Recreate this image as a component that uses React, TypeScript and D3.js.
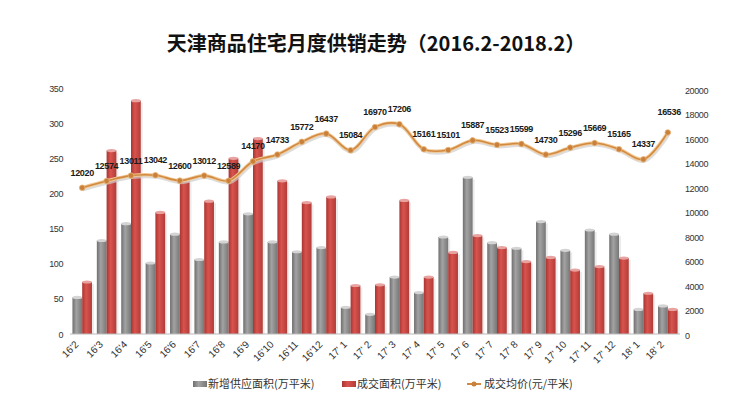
import React from "react";
import * as d3 from "d3";

const categories = ["16'2","16'3","16'4","16'5","16'6","16'7","16'8","16'9","16'10","16'11","16'12","17' 1","17' 2","17' 3","17' 4","17' 5","17' 6","17' 7","17' 8","17' 9","17' 10","17' 11","17' 12","18' 1","18' 2"];
const supply = [52,133,157,101,142,106,131,171,131,117,123,38,28,81,59,138,223,130,122,160,119,148,142,35,40];
const sales = [74,261,332,173,218,189,250,278,218,187,195,69,70,190,81,116,140,123,103,109,91,96,108,58,35];
const price = [12020,12574,13011,13042,12600,13012,12589,14170,14733,15772,16437,15084,16970,17206,15161,15101,15887,15523,15599,14730,15296,15669,15165,14337,16536];
const leftTicks = [0,50,100,150,200,250,300,350];
const rightTicks = [0,2000,4000,6000,8000,10000,12000,14000,16000,18000,20000];
const seriesNames = ["新增供应面积(万平米)", "成交面积(万平米)", "成交均价(元/平米)"];
const title = "天津商品住宅月度供销走势（2016.2-2018.2）";

const W = 752, H = 411;
const top = 88, bottom = 334;
const numFont = "'Liberation Sans', Arial, sans-serif";
const cjkFont = "'Noto Sans CJK SC', sans-serif";

export default function App() {
  const x = d3.scaleBand<string>().domain(categories).range([70, 680]).paddingInner(0.2).paddingOuter(0.1);
  const xs = d3.scaleBand<string>().domain(["s", "d"]).range([0, x.bandwidth()]);
  const yL = d3.scaleLinear().domain([0, 350]).range([bottom, top]);
  const yR = d3.scaleLinear().domain([0, 20000]).range([bottom + 1, 90]);
  const cx = (c: string) => (x(c) as number) + x.bandwidth() / 2;
  const pts: [number, number][] = price.map((p, i) => [cx(categories[i]), yR(p)]);
  const line = d3.line<[number, number]>().x(d => d[0]).y(d => d[1]).curve(d3.curveCatmullRom.alpha(0.5));
  const path = line(pts) || "";
  const bw = xs.bandwidth();

  const bar = (c: string, v: number, key: "s" | "d", i: number) => {
    const bx = (x(c) as number) + (xs(key) as number);
    const by = yL(v);
    const h = bottom - by;
    const grad = key === "s" ? "url(#gGray)" : "url(#gRed)";
    const cap = key === "s" ? "#d4d4d4" : "#e8a3a0";
    return (
      <g key={key + i}>
        <rect x={bx + 2} y={by + 2} width={bw} height={h - 2} fill="#000" opacity={0.08} />
        <rect x={bx} y={by} width={bw} height={h} fill={grad} />
        <ellipse cx={bx + bw / 2} cy={by} rx={bw / 2} ry={1.6} fill={cap} />
      </g>
    );
  };

  return (
    <svg width={W} height={H} style={{ position: "absolute", left: 0, top: 0, background: "#fff" }}>
      <defs>
        <linearGradient id="gGray" x1="0" x2="1" y1="0" y2="0">
          <stop offset="0" stopColor="#6f6f6f" />
          <stop offset="0.4" stopColor="#a3a3a3" />
          <stop offset="1" stopColor="#777777" />
        </linearGradient>
        <linearGradient id="gRed" x1="0" x2="1" y1="0" y2="0">
          <stop offset="0" stopColor="#a83632" />
          <stop offset="0.4" stopColor="#d9534e" />
          <stop offset="1" stopColor="#b23c38" />
        </linearGradient>
      </defs>
      <text x={376} y={51} textAnchor="middle" fontFamily={cjkFont} fontWeight="bold" fontSize={20} fill="#111">{title}</text>

      {leftTicks.map(t => (
        <text key={"l" + t} x={63} y={yL(t) + 3.5} textAnchor="end" fontFamily={numFont} fontSize={9} letterSpacing={-0.4} fill="#333">{t}</text>
      ))}
      {rightTicks.map(t => (
        <text key={"r" + t} x={685} y={yR(t) + 3.5} textAnchor="start" fontFamily={numFont} fontSize={9} letterSpacing={-0.4} fill="#333">{t}</text>
      ))}

      {categories.map((c, i) => bar(c, supply[i], "s", i))}
      {categories.map((c, i) => bar(c, sales[i], "d", i))}
      <line x1={70} x2={680} y1={bottom} y2={bottom} stroke="#bbb" strokeWidth={1} />

      <path d={path} transform="translate(1,2)" fill="none" stroke="#cfcfcf" strokeWidth={3} opacity={0.7} />
      <path d={path} fill="none" stroke="#f2c996" strokeWidth={3.5} />
      <path d={path} fill="none" stroke="#d18a42" strokeWidth={1.6} />
      {pts.map((p, i) => (
        <circle key={"m" + i} cx={p[0]} cy={p[1]} r={2.8} fill="#c9803a" stroke="#e8b57a" strokeWidth={0.8} />
      ))}
      {pts.map((p, i) => {
        const last = i === price.length - 1;
        return (
          <text key={"v" + i} x={last ? p[0] + 13 : p[0]} y={last ? p[1] - 17 : p[1] - 12}
            textAnchor={last ? "end" : "middle"} fontFamily={numFont} fontWeight="bold" fontSize={9} letterSpacing={-0.35} fill="#1a1a1a">{price[i]}</text>
        );
      })}

      {categories.map((c, i) => (
        <text key={"x" + i} transform={`translate(${cx(c) - 3},${bottom + 11}) rotate(-45)`} textAnchor="end" fontFamily={numFont} fontSize={10} fill="#333">{c}</text>
      ))}

      <g fontFamily={cjkFont} fontSize={11} fill="#333">
        <rect x={193} y={381} width={14} height={6} fill="url(#gGray)" />
        <text x={208} y={388}>{seriesNames[0]}</text>
        <rect x={342} y={381} width={14} height={6} fill="url(#gRed)" />
        <text x={357} y={388}>{seriesNames[1]}</text>
        <line x1={467} x2={481} y1={384} y2={384} stroke="#d18a42" strokeWidth={2} />
        <circle cx={474} cy={384} r={2.5} fill="#c9803a" />
        <text x={484} y={388}>{seriesNames[2]}</text>
      </g>
    </svg>
  );
}
